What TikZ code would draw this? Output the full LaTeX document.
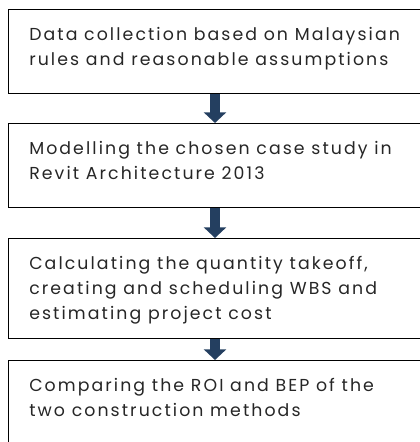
\documentclass[tikz,border=0pt]{standalone}
\usepackage{fontspec}
\setmainfont{Poppins}[LetterSpace=12]
\usetikzlibrary{arrows.meta,positioning}
\definecolor{flowblue}{RGB}{36,63,96}
\tikzset{
  stepbox/.style={draw=black,line width=1.1pt,anchor=north west,minimum width=315pt,inner sep=0pt},
  steptext/.style={anchor=north west,align=left,inner sep=0pt,font=\fontsize{13}{18.6}\selectfont,text=black!85},
  flow/.style={flowblue,line width=7.5pt,-{Triangle[width=16.5pt,length=8pt]}}
}
\begin{document}
\begin{tikzpicture}[x=0.75pt,y=-0.75pt]
\useasboundingbox (0,0) rectangle (420,442);
\clip (0,0) rectangle (420,442);

% Step boxes
\node[stepbox,minimum height=63pt] (b1) at (8,9) {};
\node[stepbox,minimum height=63pt] (b2) at (8,123) {};
\node[stepbox,minimum height=75pt] (b3) at (8,238) {};
\node[stepbox,minimum height=63pt] (b4) at (8,360) {};

% Texts
\node[steptext] (t1) at ([shift={(21,18)}]b1.north west) {Data collection based on Malaysian\\rules and reasonable assumptions};
\node[steptext] (t2) at ([shift={(21,18)}]b2.north west) {Modelling the chosen case study in\\Revit Architecture 2013};
\node[steptext] (t3) at ([shift={(21,18)}]b3.north west) {Calculating the quantity takeoff,\\creating and scheduling WBS and\\estimating project cost};
\node[steptext] (t4) at ([shift={(21,18)}]b4.north west) {Comparing the ROI and BEP of the\\two construction methods};

% Arrows
\coordinate (ax) at (215,0);
\draw[flow] (b1.south -| ax) -- (b2.north -| ax);
\draw[flow] (b2.south -| ax) -- (b3.north -| ax);
\draw[flow] (b3.south -| ax) -- (b4.north -| ax);

\end{tikzpicture}
\end{document}
